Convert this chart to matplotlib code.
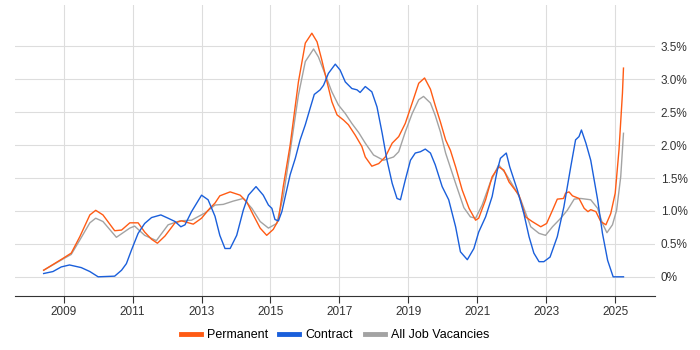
import matplotlib.pyplot as plt
from matplotlib.ticker import FuncFormatter

# Values (decimal year, percent)
perm_years = [2008.42, 2008.98, 2009.22, 2009.47, 2009.76, 2009.93, 2010.14, 2010.48, 2010.68, 2010.92,
              2011.16, 2011.35, 2011.55, 2011.72, 2011.94, 2012.23, 2012.42, 2012.76, 2013.00, 2013.24,
              2013.39, 2013.53, 2013.83, 2014.12, 2014.31, 2014.50, 2014.70, 2014.89, 2015.08, 2015.23,
              2015.37, 2015.57, 2015.81, 2016.01, 2016.20, 2016.35, 2016.49, 2016.64, 2016.78, 2016.93,
              2017.12, 2017.26, 2017.46, 2017.65, 2017.75, 2017.94, 2018.14, 2018.33, 2018.53, 2018.72,
              2018.91, 2019.11, 2019.30, 2019.47, 2019.64, 2019.78, 2019.93, 2020.08, 2020.22, 2020.37,
              2020.56, 2020.76, 2020.95, 2021.04, 2021.24, 2021.43, 2021.62, 2021.77, 2021.92, 2022.21,
              2022.40, 2022.59, 2022.84, 2023.01, 2023.18, 2023.32, 2023.50, 2023.56, 2023.66, 2023.76,
              2023.95, 2024.10, 2024.21, 2024.29, 2024.44, 2024.58, 2024.73, 2024.87, 2025.00, 2025.11,
              2025.21, 2025.24]
perm_values = [0.10, 0.28, 0.36, 0.61, 0.94, 1.01, 0.94, 0.70, 0.71, 0.82,
               0.82, 0.68, 0.57, 0.51, 0.62, 0.82, 0.85, 0.80, 0.89, 1.04,
               1.12, 1.23, 1.29, 1.24, 1.14, 0.94, 0.74, 0.63, 0.72, 0.86,
               1.37, 2.00, 2.96, 3.55, 3.70, 3.57, 3.29, 2.96, 2.66, 2.46,
               2.38, 2.31, 2.15, 1.98, 1.82, 1.68, 1.72, 1.82, 2.03, 2.13,
               2.33, 2.64, 2.94, 3.02, 2.85, 2.60, 2.35, 2.08, 1.92, 1.67,
               1.32, 1.04, 0.86, 0.89, 1.17, 1.52, 1.67, 1.62, 1.44, 1.24,
               0.91, 0.84, 0.76, 0.81, 1.01, 1.18, 1.19, 1.27, 1.29, 1.23,
               1.19, 1.04, 0.99, 1.02, 0.99, 0.84, 0.79, 0.96, 1.27, 1.93,
               2.79, 3.17]

contract_years = [2008.42, 2008.69, 2008.93, 2009.17, 2009.51, 2009.76, 2010.00, 2010.48, 2010.68, 2010.82,
                  2010.97, 2011.16, 2011.35, 2011.55, 2011.82, 2012.03, 2012.23, 2012.40, 2012.52, 2012.71,
                  2013.00, 2013.19, 2013.39, 2013.53, 2013.68, 2013.83, 2014.02, 2014.21, 2014.36, 2014.58,
                  2014.79, 2014.94, 2015.04, 2015.13, 2015.23, 2015.33, 2015.57, 2015.72, 2015.86, 2016.01,
                  2016.15, 2016.27, 2016.44, 2016.54, 2016.68, 2016.88, 2017.02, 2017.17, 2017.36, 2017.51,
                  2017.60, 2017.75, 2017.94, 2018.09, 2018.24, 2018.38, 2018.53, 2018.67, 2018.77, 2018.91,
                  2019.06, 2019.20, 2019.35, 2019.49, 2019.64, 2019.78, 2019.98, 2020.17, 2020.37, 2020.51,
                  2020.71, 2020.90, 2021.04, 2021.24, 2021.43, 2021.58, 2021.67, 2021.84, 2021.94, 2022.16,
                  2022.35, 2022.50, 2022.64, 2022.79, 2022.93, 2023.11, 2023.32, 2023.51, 2023.71, 2023.85,
                  2023.95, 2024.02, 2024.15, 2024.29, 2024.39, 2024.49, 2024.63, 2024.78, 2024.94, 2025.24]
contract_values = [0.05, 0.08, 0.15, 0.18, 0.14, 0.08, 0.00, 0.01, 0.10, 0.20,
                   0.41, 0.66, 0.81, 0.90, 0.94, 0.89, 0.84, 0.76, 0.79, 0.99,
                   1.24, 1.17, 0.92, 0.63, 0.43, 0.43, 0.63, 1.01, 1.24, 1.37,
                   1.24, 1.09, 1.04, 0.87, 0.85, 0.99, 1.55, 1.80, 2.08, 2.31,
                   2.56, 2.77, 2.84, 2.91, 3.09, 3.23, 3.14, 2.96, 2.86, 2.84,
                   2.80, 2.89, 2.81, 2.58, 2.18, 1.77, 1.42, 1.19, 1.17, 1.47,
                   1.77, 1.88, 1.90, 1.94, 1.88, 1.70, 1.37, 1.17, 0.76, 0.38,
                   0.26, 0.43, 0.68, 0.91, 1.22, 1.62, 1.80, 1.88, 1.67, 1.32,
                   0.96, 0.61, 0.36, 0.23, 0.23, 0.30, 0.61, 1.06, 1.67, 2.08,
                   2.13, 2.23, 2.03, 1.77, 1.47, 1.17, 0.66, 0.25, 0.00, 0.00]

all_years = [2008.42, 2008.98, 2009.22, 2009.47, 2009.76, 2009.93, 2010.14, 2010.53, 2010.92, 2011.06,
             2011.35, 2011.69, 2012.03, 2012.37, 2012.71, 2013.10, 2013.39, 2013.63, 2013.92, 2014.21,
             2014.46, 2014.70, 2014.94, 2015.18, 2015.37, 2015.57, 2015.81, 2016.01, 2016.25, 2016.39,
             2016.59, 2016.78, 2016.97, 2017.17, 2017.36, 2017.56, 2017.75, 2017.99, 2018.28, 2018.57,
             2018.72, 2018.91, 2019.11, 2019.30, 2019.44, 2019.64, 2019.78, 2019.93, 2020.08, 2020.37,
             2020.61, 2020.80, 2020.95, 2021.14, 2021.38, 2021.62, 2021.82, 2022.11, 2022.26, 2022.55,
             2022.79, 2022.98, 2023.18, 2023.42, 2023.61, 2023.81, 2024.00, 2024.29, 2024.49, 2024.63,
             2024.76, 2024.92, 2025.04, 2025.16, 2025.24]
all_values = [0.10, 0.27, 0.34, 0.56, 0.82, 0.89, 0.84, 0.60, 0.74, 0.77,
              0.63, 0.55, 0.79, 0.85, 0.86, 0.97, 1.09, 1.10, 1.15, 1.19,
              1.04, 0.84, 0.74, 0.81, 1.22, 1.90, 2.76, 3.27, 3.46, 3.34,
              3.07, 2.81, 2.61, 2.48, 2.33, 2.19, 2.03, 1.85, 1.77, 1.82,
              1.90, 2.20, 2.48, 2.69, 2.74, 2.64, 2.45, 2.20, 1.88, 1.42,
              1.05, 0.91, 0.89, 1.09, 1.44, 1.70, 1.57, 1.32, 1.17, 0.76,
              0.66, 0.63, 0.76, 0.89, 1.01, 1.18, 1.19, 1.17, 1.04, 0.81,
              0.67, 0.79, 1.01, 1.52, 2.18]

x_ticks = [2009, 2011, 2013, 2015, 2017, 2019, 2021, 2023, 2025]
y_ticks = [0, 0.5, 1.0, 1.5, 2.0, 2.5, 3.0, 3.5]

plt.rcParams["font.family"] = ["Liberation Sans", "DejaVu Sans"]

fig = plt.figure(figsize=(7, 3.5), dpi=100)
ax = fig.add_axes([0.021, 0.154, 0.915, 0.832])

ax.plot(all_years, all_values, color="#a3a3a3", linewidth=1.0, label="All Job Vacancies", zorder=2)
ax.plot(perm_years, perm_values, color="#ff5b14", linewidth=1.0, label="Permanent", zorder=3)
ax.plot(contract_years, contract_values, color="#1a5fdb", linewidth=1.0, label="Contract", zorder=4)

ax.set_xlim(2007.58, 2026.16)
ax.set_ylim(-0.293, 4.13)
ax.set_xticks(x_ticks)
ax.set_yticks(y_ticks)
ax.yaxis.set_major_formatter(FuncFormatter(lambda v, _: "0%" if v == 0 else f"{v:.1f}%"))
ax.yaxis.tick_right()
ax.tick_params(axis="y", length=0, pad=4, labelsize=8.5, colors="#333333")
ax.tick_params(axis="x", length=5, width=0.8, labelsize=8.5, colors="#333333", pad=2)

ax.grid(color="#dddddd", linewidth=0.8)
ax.set_axisbelow(True)
for side in ("top", "left", "right"):
    ax.spines[side].set_visible(False)
ax.spines["bottom"].set_color("#333333")

# legend centred under the plot area, order Permanent / Contract / All
handles, labels = ax.get_legend_handles_labels()
order = [1, 2, 0]
leg = ax.legend([handles[i] for i in order], [labels[i] for i in order],
                loc="center", bbox_to_anchor=(0.5, -0.134), ncol=3, frameon=False,
                fontsize=9, handlelength=1.6, handletextpad=0.5, columnspacing=0.9)
for line in leg.get_lines():
    line.set_linewidth(3.5)

fig.savefig("out.png", dpi=100)
